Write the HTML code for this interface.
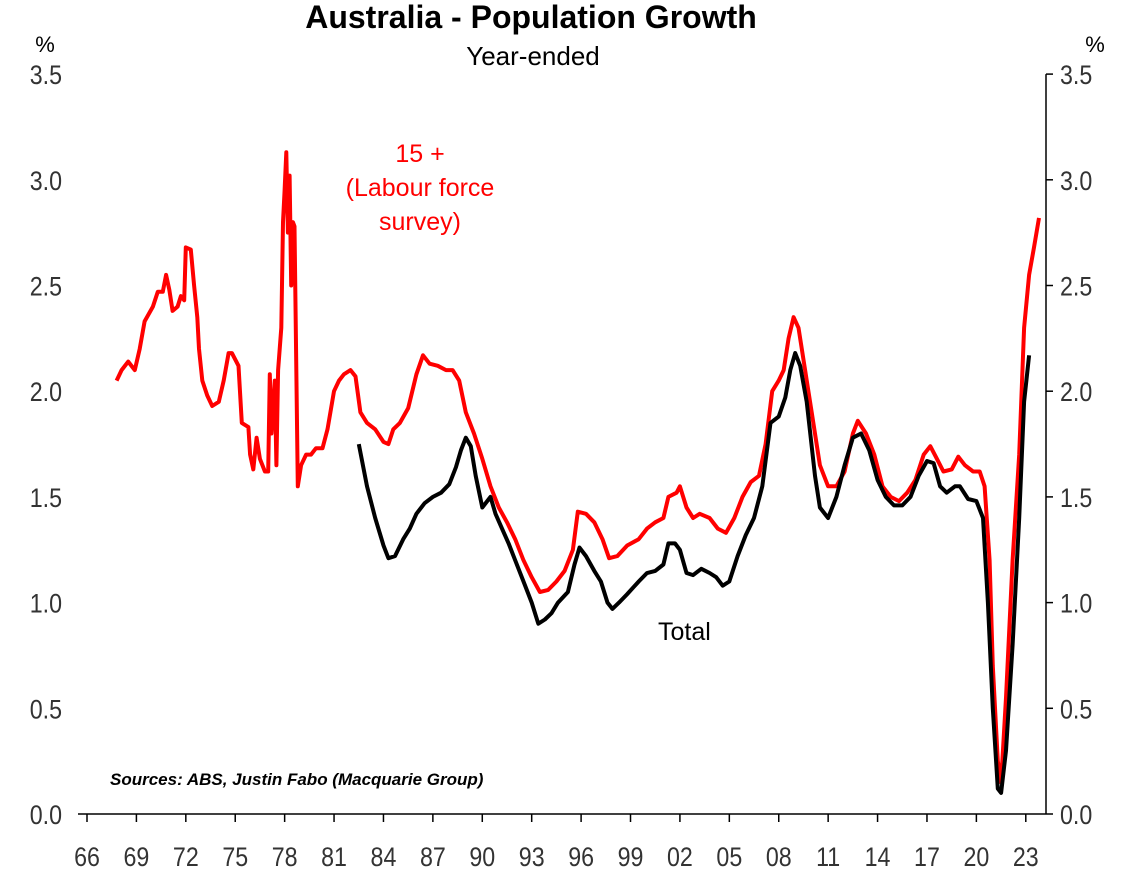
<!DOCTYPE html>
<html><head><meta charset="utf-8"><style>
body{margin:0;background:#fff;}
svg text{font-family:"Liberation Sans",Arial,sans-serif;}
</style></head><body>
<svg id="chart" width="1132" height="870" xmlns="http://www.w3.org/2000/svg">
<text x="531" y="28" text-anchor="middle" font-size="32" font-weight="bold">Australia - Population Growth</text>
<text x="533" y="65" text-anchor="middle" font-size="26">Year-ended</text>
<text x="45" y="52" text-anchor="middle" font-size="22">%</text>
<text x="1095" y="52" text-anchor="middle" font-size="22">%</text>
<g id="axes"></g>
<g id="series"></g>
<text x="420" y="162" text-anchor="middle" font-size="25" fill="#ff0000">15 +</text>
<text x="420" y="196" text-anchor="middle" font-size="25" fill="#ff0000">(Labour force</text>
<text x="420" y="230" text-anchor="middle" font-size="25" fill="#ff0000">survey)</text>
<text x="658" y="640" font-size="25">Total</text>
<text x="110" y="785" font-size="17" font-weight="bold" font-style="italic">Sources: ABS, Justin Fabo (Macquarie Group)</text>
</svg>
<script>
const yTicks=[0,0.5,1,1.5,2,2.5,3,3.5];
const xTickYears=[1966,1969,1972,1975,1978,1981,1984,1987,1990,1993,1996,1999,2002,2005,2008,2011,2014,2017,2020,2023];
const xTickLabels=["66","69","72","75","78","81","84","87","90","93","96","99","02","05","08","11","14","17","20","23"];
const lfsYears=[1967.8,1968.1,1968.5,1968.9,1969.2,1969.5,1970.0,1970.3,1970.6,1970.8,1971.0,1971.2,1971.5,1971.7,1971.9,1972.0,1972.3,1972.5,1972.7,1972.8,1973.0,1973.3,1973.6,1974.0,1974.3,1974.6,1974.8,1975.2,1975.4,1975.8,1975.9,1976.1,1976.3,1976.5,1976.8,1977.0,1977.1,1977.2,1977.4,1977.5,1977.6,1977.8,1977.9,1978.0,1978.1,1978.2,1978.3,1978.4,1978.5,1978.6,1978.8,1979.0,1979.3,1979.6,1979.9,1980.3,1980.6,1981.0,1981.3,1981.6,1982.0,1982.3,1982.6,1983.0,1983.5,1984.0,1984.3,1984.6,1985.0,1985.5,1986.0,1986.4,1986.8,1987.3,1987.8,1988.2,1988.6,1989.0,1989.5,1990.0,1990.5,1991.0,1991.5,1992.0,1992.5,1993.0,1993.5,1994.0,1994.5,1995.0,1995.5,1995.8,1996.3,1996.8,1997.3,1997.7,1998.2,1998.8,1999.5,2000.0,2000.5,2001.0,2001.3,2001.8,2002.0,2002.4,2002.8,2003.2,2003.8,2004.3,2004.8,2005.3,2005.8,2006.3,2006.8,2007.2,2007.6,2008.0,2008.3,2008.6,2008.9,2009.2,2009.6,2010.0,2010.5,2011.0,2011.5,2012.0,2012.5,2012.8,2013.3,2013.8,2014.3,2014.8,2015.3,2015.8,2016.3,2016.8,2017.2,2017.6,2018.0,2018.5,2018.9,2019.3,2019.8,2020.2,2020.5,2020.8,2021.0,2021.3,2021.5,2021.8,2022.2,2022.6,2022.9,2023.2,2023.5,2023.8];
const lfsValues=[2.05,2.10,2.14,2.10,2.20,2.33,2.40,2.47,2.47,2.55,2.48,2.38,2.40,2.45,2.43,2.68,2.67,2.50,2.35,2.20,2.05,1.98,1.93,1.95,2.05,2.18,2.18,2.12,1.85,1.83,1.70,1.63,1.78,1.68,1.62,1.62,2.08,1.80,2.05,1.65,2.10,2.30,2.80,2.95,3.13,2.75,3.02,2.50,2.80,2.78,1.55,1.65,1.70,1.70,1.73,1.73,1.82,2.00,2.05,2.08,2.10,2.07,1.90,1.85,1.82,1.76,1.75,1.82,1.85,1.92,2.08,2.17,2.13,2.12,2.10,2.10,2.05,1.90,1.80,1.68,1.55,1.45,1.38,1.30,1.20,1.12,1.05,1.06,1.10,1.15,1.25,1.43,1.42,1.38,1.30,1.21,1.22,1.27,1.30,1.35,1.38,1.40,1.50,1.52,1.55,1.45,1.40,1.42,1.40,1.35,1.33,1.40,1.50,1.57,1.60,1.75,2.00,2.05,2.10,2.25,2.35,2.30,2.10,1.90,1.65,1.55,1.55,1.62,1.80,1.86,1.80,1.70,1.55,1.50,1.48,1.52,1.58,1.70,1.74,1.68,1.62,1.63,1.69,1.65,1.62,1.62,1.55,1.20,0.70,0.25,0.15,0.55,1.20,1.70,2.30,2.55,2.68,2.82];
const totalYears=[1982.5,1983.0,1983.5,1984.0,1984.3,1984.7,1985.2,1985.6,1986.0,1986.5,1987.0,1987.5,1988.0,1988.4,1988.7,1989.0,1989.3,1989.6,1990.0,1990.5,1990.8,1991.2,1991.6,1992.0,1992.5,1993.0,1993.4,1993.8,1994.2,1994.6,1995.2,1995.6,1995.9,1996.3,1996.8,1997.2,1997.6,1997.9,1998.3,1998.8,1999.5,2000.0,2000.5,2001.0,2001.3,2001.7,2002.0,2002.4,2002.8,2003.3,2003.8,2004.2,2004.6,2005.0,2005.5,2006.0,2006.5,2007.0,2007.5,2008.0,2008.4,2008.7,2009.0,2009.3,2009.7,2010.2,2010.5,2011.0,2011.5,2012.0,2012.5,2013.0,2013.5,2014.0,2014.5,2015.0,2015.5,2016.0,2016.5,2017.0,2017.4,2017.8,2018.2,2018.7,2019.0,2019.5,2020.0,2020.4,2020.7,2021.0,2021.3,2021.5,2021.8,2022.2,2022.6,2022.9,2023.2];
const totalValues=[1.75,1.55,1.40,1.27,1.21,1.22,1.30,1.35,1.42,1.47,1.50,1.52,1.56,1.64,1.72,1.78,1.74,1.60,1.45,1.50,1.42,1.35,1.28,1.20,1.10,1.00,0.90,0.92,0.95,1.00,1.05,1.18,1.26,1.22,1.15,1.10,1.00,0.97,1.00,1.04,1.10,1.14,1.15,1.18,1.28,1.28,1.25,1.14,1.13,1.16,1.14,1.12,1.08,1.10,1.22,1.32,1.40,1.55,1.85,1.88,1.97,2.10,2.18,2.12,1.95,1.60,1.45,1.40,1.50,1.65,1.78,1.80,1.72,1.58,1.50,1.46,1.46,1.50,1.60,1.67,1.66,1.55,1.52,1.55,1.55,1.49,1.48,1.40,1.00,0.50,0.12,0.10,0.30,0.80,1.40,1.95,2.17];

const NS='http://www.w3.org/2000/svg';
const X0=87, PXY=16.47, Y0=814, PXV=211.4, RIGHT=1046;
function xScale(yr){return X0+(yr-1966)*PXY;}
function yScale(v){return Y0-v*PXV;}
function mk(tag,attrs,parent){const e=document.createElementNS(NS,tag);for(const k in attrs)e.setAttribute(k,attrs[k]);parent.appendChild(e);return e;}
const axes=document.getElementById('axes'), series=document.getElementById('series');

const xa=mk('line',{x1:78,y1:Y0,x2:RIGHT,y2:Y0,stroke:'#000','stroke-width':1.5},axes);


const ra=mk('line',{x1:RIGHT,y1:yScale(3.5),x2:RIGHT,y2:Y0,stroke:'#000','stroke-width':1.5},axes);



function condensed(x,y,anchor,txt,name){
  const g=mk('g',{transform:`translate(${x},${y}) scale(0.86,1)`},axes);
  const t=mk('text',{x:0,y:0,'text-anchor':anchor,'font-size':27,fill:'#333'},g);
  t.textContent=txt;
  
  
}
yTicks.forEach(v=>{
  condensed(62,yScale(v)+10,'end',v.toFixed(1),'left-y-tick-label');
  condensed(1060,yScale(v)+10,'start',v.toFixed(1),'right-y-tick-label');
  const t=mk('line',{x1:RIGHT,y1:yScale(v),x2:RIGHT+7,y2:yScale(v),stroke:'#000','stroke-width':1.5},axes);
  
  
});
xTickYears.forEach((yr,i)=>{
  const t=mk('line',{x1:xScale(yr),y1:Y0,x2:xScale(yr),y2:Y0+8,stroke:'#000','stroke-width':1.5},axes);
  
  
  condensed(xScale(yr),Y0+52,'middle',xTickLabels[i],'x-tick-label');
});

function pathFor(xs,vs){return xs.map((yr,i)=>(i?'L':'M')+xScale(yr).toFixed(1)+','+yScale(vs[i]).toFixed(1)).join('');}
const red=mk('path',{d:pathFor(lfsYears,lfsValues),fill:'none',stroke:'#ff0000','stroke-width':4,'stroke-linejoin':'round'},series);


const blk=mk('path',{d:pathFor(totalYears,totalValues),fill:'none',stroke:'#000','stroke-width':4,'stroke-linejoin':'round'},series);


</script>
</body></html>
